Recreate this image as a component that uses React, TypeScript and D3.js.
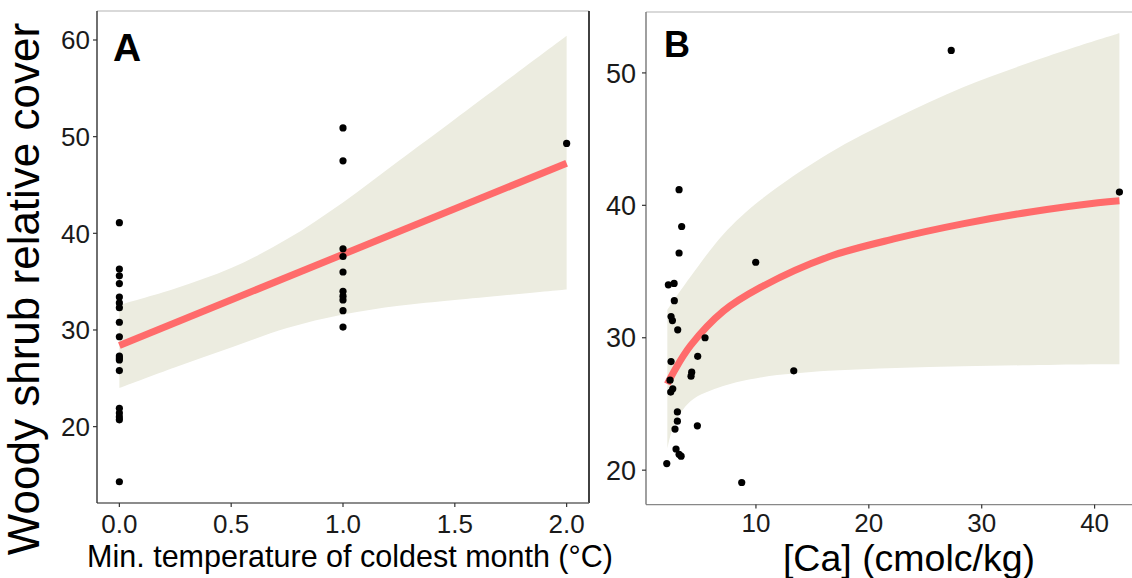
import React from "react";
import * as d3 from "d3";

// ---------- Panel A data ----------
const tempX = [
  0, 0, 0, 0, 0, 0, 0, 0, 0, 0, 0, 0, 0, 0, 0, 0, 0, 0,
  1, 1, 1, 1, 1, 1, 1, 1, 1, 1,
  2,
];
const coverA = [
  41.1, 36.3, 35.6, 34.8, 33.4, 32.8, 32.3, 30.8, 29.3, 27.3, 27.1, 26.9, 25.8, 21.9, 21.4, 21.0, 20.7, 14.3,
  50.9, 47.5, 38.4, 37.6, 36.0, 34.0, 33.5, 33.1, 32.0, 30.3,
  49.3,
];
const fitAX = [0, 2];
const fitAY = [28.4, 47.25];
const ciAX = [0, 0.25, 0.5, 0.75, 1, 1.25, 1.5, 2];
const ciALow = [24.0, 26.15, 28.2, 30.2, 31.6, 32.5, 33.1, 34.2];
const ciAHigh = [32.6, 34.3, 36.4, 39.4, 43.2, 47.5, 51.8, 60.45];
const ticksAX = [0, 0.5, 1, 1.5, 2];
const ticksAY = [20, 30, 40, 50, 60];

// ---------- Panel B data ----------
const caX = [
  3.19, 3.42, 3.19, 9.98, 2.24, 2.75, 2.77, 2.48, 2.6, 3.07, 5.49, 4.84, 2.48, 4.31, 4.25,
  2.39, 2.63, 2.45, 3.04, 3.04, 2.83, 4.81, 2.92, 3.19, 3.37, 2.1, 8.74, 27.3, 13.35, 42.2,
];
const coverB = [
  41.18, 38.4, 36.4, 35.7, 34.0, 34.1, 32.8, 31.6, 31.3, 30.6, 30.0, 28.6, 28.2, 27.4, 27.1,
  26.8, 26.15, 25.9, 24.4, 23.7, 23.1, 23.35, 21.6, 21.2, 21.06, 20.5, 19.07, 51.7, 27.5, 41.0,
];
const fitBX = [2.15, 2.7, 4.2, 7.1, 10.4, 16.4, 22.4, 28.3, 34.3, 40.3, 42.2];
const fitBY = [26.5, 27.4, 29.4, 32.0, 33.8, 36.1, 37.5, 38.6, 39.5, 40.2, 40.35];
const ciBLow = [21.6, 23.3, 25.2, 26.35, 27.0, 27.5, 27.72, 27.84, 27.93, 28.0, 28.0];
const ciBHigh = [32.1, 32.8, 34.6, 37.8, 40.4, 43.9, 46.6, 48.9, 50.8, 52.5, 53.0];
const ticksBX = [10, 20, 30, 40];
const ticksBY = [20, 30, 40, 50];

const RIBBON = "#ECECE0";
const LINE = "#FF6B6B";
const FONT = "Liberation Sans, Arial, Helvetica, sans-serif";

export default function App() {
  // Panel A scales
  const xA = d3.scaleLinear().domain([-0.1, 2.1]).range([97, 589]);
  const yA = d3.scaleLinear().domain([12.1, 63.0]).range([503, 11]);
  // Panel B scales
  const xB = d3.scaleLinear().domain([0.26, 44.2]).range([646, 1142]);
  const yB = d3.scaleLinear().domain([17.4, 54.6]).range([504.6, 12]);

  const smooth = d3.curveCatmullRom.alpha(0.5);

  const ribbonA = d3
    .area<number>()
    .x((_, i) => xA(ciAX[i]))
    .y0((_, i) => yA(ciALow[i]))
    .y1((_, i) => yA(ciAHigh[i]))
    .curve(smooth)(ciAX);
  const lineA = d3
    .line<number>()
    .x((_, i) => xA(fitAX[i]))
    .y((_, i) => yA(fitAY[i]))(fitAX);

  const ribbonB = d3
    .area<number>()
    .x((_, i) => xB(fitBX[i]))
    .y0((_, i) => yB(ciBLow[i]))
    .y1((_, i) => yB(ciBHigh[i]))
    .curve(smooth)(fitBX);
  const lineB = d3
    .line<number>()
    .x((_, i) => xB(fitBX[i]))
    .y((_, i) => yB(fitBY[i]))
    .curve(smooth)(fitBX);

  const [ax0, ax1] = xA.range();
  const [ay0, ay1] = yA.range();
  const bx0 = xB.range()[0];
  const [by0, by1] = yB.range();

  return (
    <svg
      width={1132}
      height={578}
      style={{ position: "absolute", left: 0, top: 0, background: "#fff" }}
      fontFamily={FONT}
    >
      <rect x={0} y={0} width={1132} height={578} fill="#fff" />
      {/* Panel A */}
      <path d={ribbonA || ""} fill={RIBBON} />
      <path d={lineA || ""} stroke={LINE} strokeWidth={7} fill="none" />
      {tempX.map((v, i) => (
        <circle key={"a" + i} cx={xA(v)} cy={yA(coverA[i])} r={3.6} fill="#000" />
      ))}
      <line x1={ax0} x2={ax1} y1={ay1} y2={ay1} stroke="#b3b3b3" strokeWidth={1.2} />
      <line x1={ax1} x2={ax1} y1={ay1} y2={ay0} stroke="#111" strokeWidth={1.6} />
      <line x1={ax0} x2={ax1} y1={ay0} y2={ay0} stroke="#666" strokeWidth={1.4} />
      <line x1={ax0} x2={ax0} y1={ay1} y2={ay0} stroke="#333" strokeWidth={1.4} />
      {ticksAX.map((t) => (
        <g key={"tax" + t}>
          <line x1={xA(t)} x2={xA(t)} y1={ay0} y2={ay0 + 4} stroke="#333" strokeWidth={1.2} />
          <text x={xA(t)} y={533} fontSize={26} textAnchor="middle" fill="#1a1a1a">
            {d3.format(".1f")(t)}
          </text>
        </g>
      ))}
      {ticksAY.map((t) => (
        <g key={"tay" + t}>
          <line x1={ax0 - 4} x2={ax0} y1={yA(t)} y2={yA(t)} stroke="#333" strokeWidth={1.2} />
          <text x={90} y={yA(t)} dy="0.36em" fontSize={26} textAnchor="end" fill="#1a1a1a">
            {t}
          </text>
        </g>
      ))}
      <text x={113} y={61} fontSize={39} fontWeight="bold" fill="#000">
        A
      </text>
      <text x={350} y={567} fontSize={30.5} textAnchor="middle" fill="#000">
        Min. temperature of coldest month (°C)
      </text>
      <text
        transform="translate(39,289) rotate(-90)"
        fontSize={44}
        textAnchor="middle"
        fill="#000"
      >
        Woody shrub relative cover
      </text>

      {/* Panel B */}
      <path d={ribbonB || ""} fill={RIBBON} />
      <path d={lineB || ""} stroke={LINE} strokeWidth={7} fill="none" />
      {caX.map((v, i) => (
        <circle key={"b" + i} cx={xB(v)} cy={yB(coverB[i])} r={3.6} fill="#000" />
      ))}
      <line x1={bx0} x2={1132} y1={by1} y2={by1} stroke="#b3b3b3" strokeWidth={1.2} />
      <line x1={bx0} x2={1132} y1={by0} y2={by0} stroke="#888" strokeWidth={1.4} />
      <line x1={bx0} x2={bx0} y1={by1} y2={by0} stroke="#777" strokeWidth={1.4} />
      {ticksBX.map((t) => (
        <g key={"tbx" + t}>
          <line x1={xB(t)} x2={xB(t)} y1={by0} y2={by0 + 4} stroke="#333" strokeWidth={1.2} />
          <text x={xB(t)} y={532} fontSize={26} textAnchor="middle" fill="#1a1a1a">
            {t}
          </text>
        </g>
      ))}
      {ticksBY.map((t) => (
        <g key={"tby" + t}>
          <line x1={bx0 - 4} x2={bx0} y1={yB(t)} y2={yB(t)} stroke="#333" strokeWidth={1.2} />
          <text x={636} y={yB(t)} dy="0.36em" fontSize={27} textAnchor="end" fill="#1a1a1a">
            {t}
          </text>
        </g>
      ))}
      <text x={664} y={57} fontSize={36} fontWeight="bold" fill="#000">
        B
      </text>
      <text x={909} y={571} fontSize={37.5} textAnchor="middle" fill="#000">
        [Ca] (cmolc/kg)
      </text>
    </svg>
  );
}
